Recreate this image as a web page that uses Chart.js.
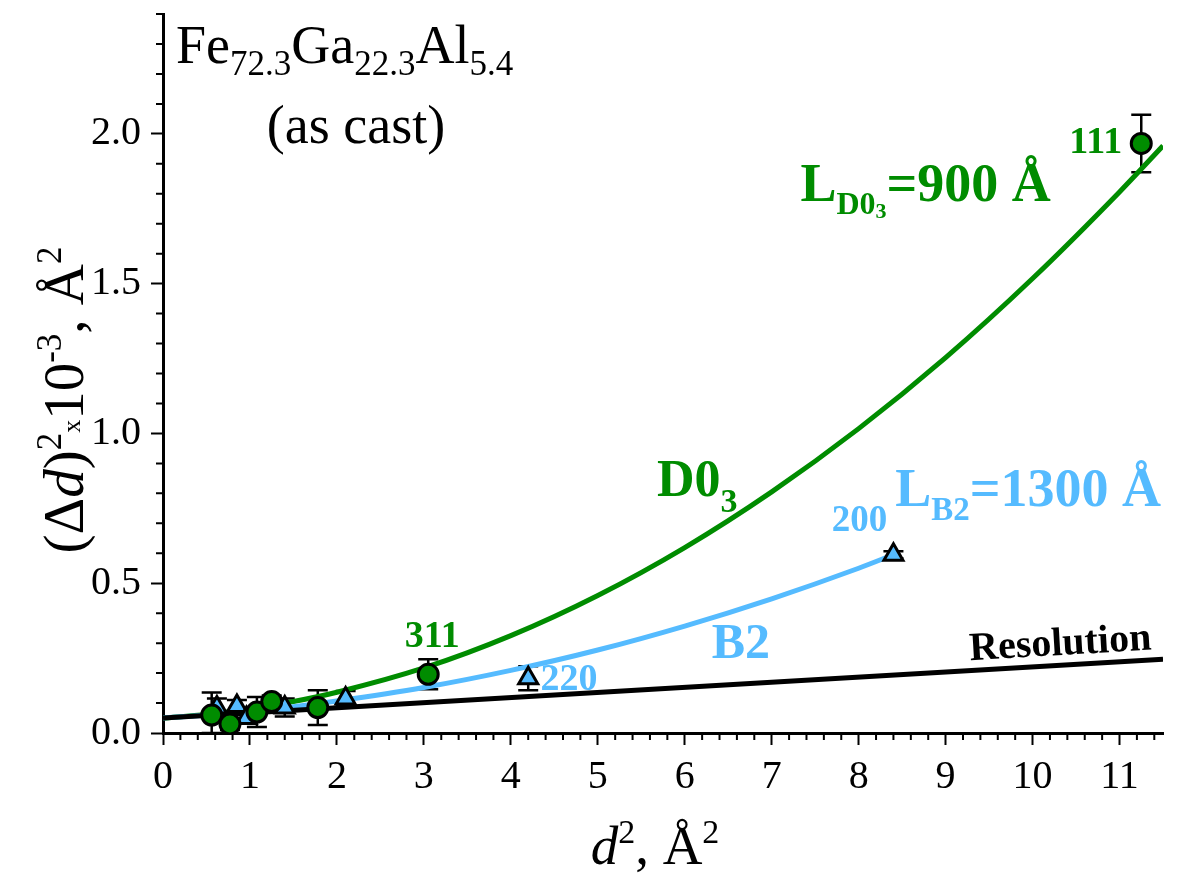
<!DOCTYPE html>
<html>
<head>
<meta charset="utf-8">
<script src="https://cdn.jsdelivr.net/npm/chart.js@4.4.1/dist/chart.umd.min.js"></script>
<style>
    html, body { margin: 0; padding: 0; background: #fff; }
    #wrap { width: 1184px; height: 882px; }
</style>
</head>
<body>
<div id="wrap"><canvas id="chart" width="1184" height="882"></canvas></div>
<script>
const SERIF = "'Liberation Serif', 'Times New Roman', serif";
const GREEN = '#008C00';
const BLUE = '#55BBFF';

// D0_3 reflections: d^2 (A^2) vs (Δd)^2 x 10^-3 (A^2)
const d03X = [0.56, 0.77, 1.08, 1.25, 1.78, 3.05, 11.25];
const d03Y = [0.06, 0.03, 0.07, 0.105, 0.085, 0.196, 1.968];
const d03Err = [0.075, 0.02, 0.05, 0.02, 0.058, 0.05, 0.096];

// B2 reflections
const b2X = [0.62, 0.85, 0.96, 1.40, 2.10, 4.20, 8.40];
const b2Y = [0.085, 0.09, 0.05, 0.085, 0.115, 0.183, 0.595];
const b2Err = [0.03, 0.02, 0.015, 0.03, 0.025, 0.04, 0.012];

// fitted curves
const d03FitX = [0, 0.5, 1, 1.5, 2, 3, 4, 5, 6, 7, 8, 9, 10, 11, 11.5];
const d03FitY = [0.05, 0.062, 0.080, 0.105, 0.136, 0.217, 0.325, 0.459, 0.619, 0.805, 1.016, 1.253, 1.517, 1.806, 1.96];
const b2FitX = [0, 0.5, 1, 1.5, 2, 3, 4, 5, 6, 7, 8, 8.40];
const b2FitY = [0.05, 0.060, 0.073, 0.088, 0.107, 0.152, 0.209, 0.277, 0.357, 0.448, 0.550, 0.595];

// instrumental resolution
const resX = [0, 11.5];
const resY = [0.05, 0.246];

// axis ticks
const xTickValues = [0, 1, 2, 3, 4, 5, 6, 7, 8, 9, 10, 11];
const yTickValues = [0, 0.5, 1.0, 1.5, 2.0];

const toPoints = (xs, ys) => xs.map((x, i) => ({ x, y: ys[i] }));

// draw a run of text pieces with sub/superscripts; shift is in em, positive = down
function drawRich(ctx, x, y, runs, size, color, opts = {}) {
    const bold = opts.bold ? 'bold ' : '';
    const parts = runs.map(r => {
        const [text, scale = 1, shift = 0, italic = false] = r;
        const font = `${italic ? 'italic ' : ''}${bold}${Math.round(size * scale)}px ${SERIF}`;
        ctx.font = font;
        return { text, font, shift: shift * size, w: ctx.measureText(text).width };
    });
    const total = parts.reduce((s, p) => s + p.w, 0);
    let cx = x;
    if (opts.align === 'center') cx = x - total / 2;
    else if (opts.align === 'right') cx = x - total;
    ctx.fillStyle = color;
    ctx.textAlign = 'left';
    ctx.textBaseline = 'alphabetic';
    parts.forEach(p => {
        ctx.font = p.font;
        ctx.fillText(p.text, cx, y + p.shift);
        cx += p.w;
    });
}

const errorBars = {
    id: 'errorBars',
    beforeDatasetsDraw(chart) {
        const { ctx, scales: { x, y } } = chart;
        ctx.save();
        ctx.strokeStyle = '#000';
        ctx.lineWidth = 2.5;
        chart.data.datasets.forEach(ds => {
            if (!ds.yErr) return;
            ds.data.forEach((p, i) => {
                const px = x.getPixelForValue(p.x);
                const top = y.getPixelForValue(p.y + ds.yErr[i]);
                const bot = y.getPixelForValue(Math.max(0, p.y - ds.yErr[i]));
                ctx.beginPath();
                ctx.moveTo(px, top); ctx.lineTo(px, bot);
                ctx.moveTo(px - 10, top); ctx.lineTo(px + 10, top);
                ctx.moveTo(px - 10, bot); ctx.lineTo(px + 10, bot);
                ctx.stroke();
            });
        });
        ctx.restore();
    }
};

const minorTicks = {
    id: 'minorTicks',
    afterDraw(chart) {
        const { ctx, scales: { x, y } } = chart;
        ctx.save();
        ctx.strokeStyle = '#000';
        ctx.lineWidth = 2;
        ctx.beginPath();
        for (let i = 1; i <= 57; i++) {
            if (i % 5 === 0) continue;
            const px = x.getPixelForValue(i * 0.2);
            ctx.moveTo(px, y.bottom); ctx.lineTo(px, y.bottom + 7);
        }
        for (let i = 1; i <= 24; i++) {
            if (i % 5 === 0) continue;
            const py = y.getPixelForValue(i * 0.1);
            ctx.moveTo(x.left, py); ctx.lineTo(x.left - 7, py);
        }
        ctx.stroke();
        ctx.restore();
    }
};

const labels = {
    id: 'labels',
    afterDraw(chart) {
        const { ctx, scales: { x, y } } = chart;
        const X = v => x.getPixelForValue(v);
        const Y = v => y.getPixelForValue(v);
        ctx.save();

        // sample title
        drawRich(ctx, 176, 63, [['Fe'], ['72.3', 0.65, 0.22], ['Ga'], ['22.3', 0.65, 0.22], ['Al'], ['5.4', 0.65, 0.22]], 54, '#000');
        drawRich(ctx, 356, 143, [['(as cast)']], 54, '#000', { align: 'center' });

        // reflection indices
        drawRich(ctx, X(11.03), Y(1.937), [['111']], 38, GREEN, { bold: true, align: 'right' });
        drawRich(ctx, X(2.78), Y(0.286), [['311']], 38, GREEN, { bold: true });
        drawRich(ctx, X(4.34), Y(0.143), [['220']], 38, BLUE, { bold: true });
        drawRich(ctx, X(7.69), Y(0.674), [['200']], 37, BLUE, { bold: true });

        // phase labels and domain sizes
        drawRich(ctx, X(7.33), Y(1.777), [['L'], ['D0', 0.6, 0.25], ['3', 0.4, 0.33], ['=900 Å']], 54, GREEN, { bold: true });
        drawRich(ctx, X(5.68), Y(0.79), [['D0'], ['3', 0.65, 0.3]], 52, GREEN, { bold: true });
        drawRich(ctx, X(8.42), Y(0.757), [['L'], ['B2', 0.62, 0.25], ['=1300 Å']], 54, BLUE, { bold: true });
        drawRich(ctx, X(6.31), Y(0.252), [['B2']], 50, BLUE, { bold: true });

        // resolution label follows the line slope
        const x0 = X(9.28), y0 = Y(0.243);
        const ang = Math.atan2(Y(resY[1]) - Y(resY[0]), X(resX[1]) - X(resX[0]));
        ctx.save();
        ctx.translate(x0, y0);
        ctx.rotate(ang);
        drawRich(ctx, 0, 0, [['Resolution']], 40, '#000', { bold: true });
        ctx.restore();

        // axis titles
        drawRich(ctx, 655, 864, [['d', 1, 0, true], ['2', 0.62, -0.38], [', Å'], ['2', 0.62, -0.38]], 55, '#000', { align: 'center' });
        ctx.save();
        ctx.translate(83, 400);
        ctx.rotate(-Math.PI / 2);
        drawRich(ctx, 0, 0, [['(Δ'], ['d', 1, 0, true], [')'], ['2', 0.62, -0.38], ['x', 0.45, -0.05], ['10'], ['-3', 0.62, -0.38], [', Å'], ['2', 0.62, -0.38]], 57, '#000', { align: 'center' });
        ctx.restore();

        ctx.restore();
    }
};

const fitLine = (xs, ys, color) => ({
    type: 'line',
    data: toPoints(xs, ys),
    borderColor: color,
    borderWidth: 5,
    pointRadius: 0,
    showLine: true,
    fill: false,
    cubicInterpolationMode: 'monotone',
    order: 2
});

// keep the plot box fixed: drop the padding Chart.js reserves for end labels
const noEndPadding = s => {
    s.paddingTop = 0;
    s.paddingBottom = 0;
    s.paddingLeft = 0;
    s.paddingRight = 0;
};

new Chart(document.getElementById('chart'), {
    type: 'scatter',
    data: {
        datasets: [
            fitLine(resX, resY, '#000'),
            fitLine(b2FitX, b2FitY, BLUE),
            fitLine(d03FitX, d03FitY, GREEN),
            {
                label: 'B2',
                data: toPoints(b2X, b2Y),
                yErr: b2Err,
                pointStyle: 'triangle',
                pointRadius: 11,
                backgroundColor: BLUE,
                borderColor: '#000',
                borderWidth: 3,
                order: 1
            },
            {
                label: 'D03',
                data: toPoints(d03X, d03Y),
                yErr: d03Err,
                pointStyle: 'circle',
                pointRadius: 10,
                backgroundColor: GREEN,
                borderColor: '#000',
                borderWidth: 3,
                order: 0
            }
        ]
    },
    options: {
        responsive: false,
        animation: false,
        events: [],
        layout: { padding: { top: 10, right: 21, left: 0, bottom: 0 } },
        plugins: {
            legend: { display: false },
            tooltip: { enabled: false }
        },
        scales: {
            x: {
                type: 'linear',
                min: 0,
                max: 11.5,
                afterFit: s => { s.height = 149; noEndPadding(s); },
                afterBuildTicks: s => { s.ticks = xTickValues.map(v => ({ value: v })); },
                ticks: {
                    color: '#000',
                    padding: 8,
                    font: { family: SERIF, size: 40 },
                    callback: v => String(v)
                },
                grid: { display: true, drawOnChartArea: false, drawTicks: true, tickLength: 12, tickColor: '#000', tickWidth: 2 },
                border: { display: true, color: '#000', width: 3 }
            },
            y: {
                type: 'linear',
                min: 0,
                max: 2.4,
                afterFit: s => { s.width = 163; noEndPadding(s); },
                afterBuildTicks: s => { s.ticks = yTickValues.map(v => ({ value: v })); },
                ticks: {
                    color: '#000',
                    padding: 10,
                    font: { family: SERIF, size: 40 },
                    callback: v => Number(v).toFixed(1)
                },
                grid: { display: true, drawOnChartArea: false, drawTicks: true, tickLength: 12, tickColor: '#000', tickWidth: 2 },
                border: { display: true, color: '#000', width: 3 }
            }
        }
    },
    plugins: [errorBars, minorTicks, labels]
});
</script>
</body>
</html>
